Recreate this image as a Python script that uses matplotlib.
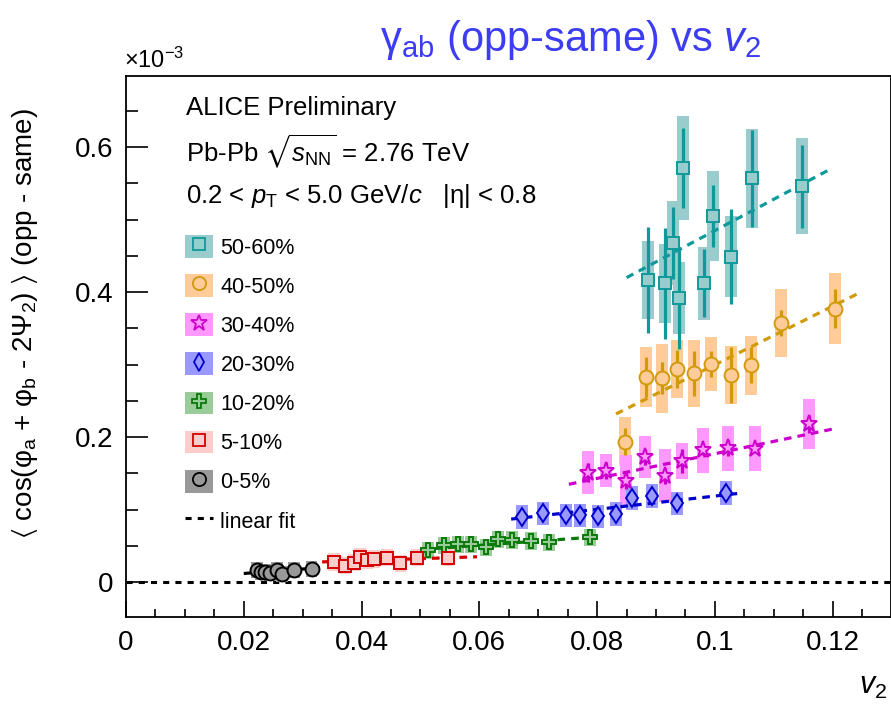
import matplotlib
matplotlib.use("Agg")
import matplotlib.pyplot as plt
from matplotlib.patches import Rectangle
from matplotlib.lines import Line2D
from matplotlib.ticker import MultipleLocator

plt.rcParams['font.family'] = ['Liberation Sans', 'DejaVu Sans']
plt.rcParams['mathtext.fontset'] = 'custom'
plt.rcParams['mathtext.rm'] = 'Liberation Sans'
plt.rcParams['mathtext.it'] = 'Liberation Sans:italic'
plt.rcParams['mathtext.bf'] = 'Liberation Sans:bold'
plt.rcParams['mathtext.fallback'] = 'stixsans'

# centrality classes, values in units of 1e-3
labels = ['50-60%', '40-50%', '30-40%', '20-30%', '10-20%', '5-10%', '0-5%']

v2_5060 = [0.0886, 0.0915, 0.0929, 0.0939, 0.0946, 0.0981, 0.0997, 0.1027, 0.1063, 0.1148]
g_5060 = [0.417, 0.412, 0.468, 0.392, 0.571, 0.412, 0.505, 0.449, 0.557, 0.546]
stat_5060 = [0.073, 0.077, 0.050, 0.070, 0.055, 0.047, 0.043, 0.066, 0.067, 0.057]
sys_5060 = [0.054, 0.054, 0.058, 0.050, 0.072, 0.050, 0.062, 0.056, 0.068, 0.066]

v2_4050 = [0.0847, 0.0883, 0.0910, 0.0935, 0.0964, 0.0993, 0.1027, 0.1061, 0.1112, 0.1204]
g_4050 = [0.194, 0.283, 0.281, 0.294, 0.288, 0.301, 0.286, 0.299, 0.357, 0.377]
stat_4050 = [0.018, 0.028, 0.022, 0.026, 0.031, 0.018, 0.039, 0.025, 0.018, 0.027]
sys_4050 = [0.034, 0.041, 0.048, 0.040, 0.046, 0.037, 0.040, 0.041, 0.047, 0.049]

v2_3040 = [0.0784, 0.0815, 0.0849, 0.0881, 0.0915, 0.0944, 0.0980, 0.1022, 0.1068, 0.1160]
g_3040 = [0.151, 0.154, 0.140, 0.172, 0.147, 0.167, 0.182, 0.185, 0.184, 0.218]
stat_3040 = [0.013, 0.012, 0.012, 0.011, 0.011, 0.017, 0.007, 0.011, 0.005, 0.012]
sys_3040 = [0.030, 0.023, 0.035, 0.029, 0.036, 0.025, 0.031, 0.031, 0.031, 0.034]

v2_2030 = [0.0672, 0.0708, 0.0747, 0.0771, 0.0801, 0.0832, 0.0859, 0.0893, 0.0935, 0.1019]
g_2030 = [0.090, 0.095, 0.092, 0.092, 0.091, 0.094, 0.116, 0.119, 0.109, 0.123]
stat_2030 = [0.006, 0.006, 0.005, 0.005, 0.006, 0.006, 0.006, 0.006, 0.006, 0.006]
sys_2030 = [0.016, 0.016, 0.016, 0.016, 0.016, 0.016, 0.017, 0.017, 0.016, 0.016]

v2_1020 = [0.0513, 0.0540, 0.0564, 0.0586, 0.0611, 0.0632, 0.0655, 0.0688, 0.0718, 0.0788]
g_1020 = [0.044, 0.051, 0.052, 0.052, 0.048, 0.059, 0.058, 0.057, 0.055, 0.062]
stat_1020 = [0.004, 0.004, 0.004, 0.004, 0.004, 0.004, 0.004, 0.004, 0.004, 0.004]
sys_1020 = [0.012, 0.012, 0.012, 0.012, 0.012, 0.012, 0.012, 0.012, 0.012, 0.012]

v2_0510 = [0.0353, 0.0372, 0.0387, 0.0398, 0.0410, 0.0421, 0.0443, 0.0466, 0.0494, 0.0547]
g_0510 = [0.028, 0.023, 0.027, 0.035, 0.030, 0.032, 0.034, 0.026, 0.034, 0.034]
stat_0510 = [0.003, 0.003, 0.003, 0.003, 0.003, 0.003, 0.003, 0.003, 0.003, 0.003]
sys_0510 = [0.012, 0.012, 0.012, 0.012, 0.012, 0.012, 0.012, 0.012, 0.012, 0.012]

v2_0005 = [0.0222, 0.0229, 0.0236, 0.0245, 0.0257, 0.0265, 0.0285, 0.0315]
g_0005 = [0.017, 0.014, 0.014, 0.012, 0.017, 0.011, 0.017, 0.018]
stat_0005 = [0.002, 0.002, 0.002, 0.002, 0.002, 0.002, 0.002, 0.002]
sys_0005 = [0.011, 0.011, 0.011, 0.011, 0.011, 0.011, 0.011, 0.011]

# linear fit end points: (v2 start, v2 end), (value start, value end)
fit_x = [(0.0850, 0.1197), (0.0832, 0.1248), (0.0752, 0.1199), (0.0654, 0.1046),
         (0.0500, 0.0790), (0.0333, 0.0596), (0.0200, 0.0330)]
fit_y = [(0.420, 0.570), (0.232, 0.400), (0.135, 0.211), (0.087, 0.123),
         (0.045, 0.062), (0.028, 0.035), (0.012, 0.020)]

xs = [v2_5060, v2_4050, v2_3040, v2_2030, v2_1020, v2_0510, v2_0005]
ys = [g_5060, g_4050, g_3040, g_2030, g_1020, g_0510, g_0005]
stats = [stat_5060, stat_4050, stat_3040, stat_2030, stat_1020, stat_0510, stat_0005]
syss = [sys_5060, sys_4050, sys_3040, sys_2030, sys_1020, sys_0510, sys_0005]

line_c = ['#10999a', '#d19a0b', '#cc00cc', '#0000cc', '#0a7a0a', '#d40000', '#000000']
box_c = ['#99cccc', '#ffcc99', '#ff99ff', '#9999ff', '#99cc99', '#ffcccc', '#999999']
markers = ['s', 'o', '*', 'd', 'P', 's', 'o']
msizes = [9, 10, 12.5, 9.5, 10.5, 9, 10]

fig = plt.figure(figsize=(8.91, 7.04), dpi=100)
ax = fig.add_axes([126/891, 1-617/704, 765/891, 541/704])

ax.axhline(0, color='k', ls=(0, (2, 2)), lw=2.2, zorder=1)

bw = 0.002
handles = []
for i in range(len(labels)):
    for x, y, s in zip(xs[i], ys[i], syss[i]):
        ax.add_patch(Rectangle((x-bw/2, y-s), bw, 2*s, facecolor=box_c[i],
                               edgecolor='none', zorder=2))
    ax.plot(fit_x[i], fit_y[i], color=line_c[i], ls=(0, (2.4, 1.9)), lw=2.3, zorder=3)
    ax.errorbar(xs[i], ys[i], yerr=stats[i], fmt='none', ecolor=line_c[i],
                elinewidth=2.3, capsize=0, zorder=4)
    ax.plot(xs[i], ys[i], ls='none', marker=markers[i], ms=msizes[i],
            mfc=box_c[i], mec=line_c[i], mew=1.4, zorder=5)
    handles.append((Rectangle((0, 0), 1, 1, facecolor=box_c[i], edgecolor='none'),
                    Line2D([], [], ls='none', marker=markers[i], ms=msizes[i]*0.95,
                           mfc=box_c[i], mec=line_c[i], mew=1.3)))

handles.append(Line2D([], [], color='k', ls=(0, (2, 2)), lw=2.2))
leg = ax.legend(handles, labels + ['linear fit'], loc='upper left',
                bbox_to_anchor=(0.077, 0.706), frameon=False, fontsize=15.5,
                handlelength=1.3, handleheight=1.25, handletextpad=0.35,
                labelspacing=0.72, borderpad=0, borderaxespad=0)

ax.set_xlim(0, 0.1299)
ax.set_ylim(-0.048, 0.698)
ax.xaxis.set_minor_locator(MultipleLocator(0.005))
ax.yaxis.set_minor_locator(MultipleLocator(0.05))
ax.set_xticks([0, 0.02, 0.04, 0.06, 0.08, 0.1, 0.12],
              ['0', '0.02', '0.04', '0.06', '0.08', '0.1', '0.12'])
ax.set_yticks([0, 0.2, 0.4, 0.6], ['0', '0.2', '0.4', '0.6'])
ax.tick_params(axis='x', which='major', direction='in', length=11.5, width=1.2,
               labelsize=20, pad=9)
ax.tick_params(axis='x', which='minor', direction='in', length=5.8, width=1.2)
ax.tick_params(axis='y', which='major', direction='in', length=16, width=1.2,
               labelsize=20, pad=9)
ax.tick_params(axis='y', which='minor', direction='in', length=8.5, width=1.2)
for sp in ax.spines.values():
    sp.set_linewidth(1.3)

tx = 0.079
ax.text(tx, 0.941, 'ALICE Preliminary', transform=ax.transAxes, fontsize=18.5, va='center')
ax.text(tx, 0.860, r'Pb-Pb $\sqrt{s_{\rm NN}}$ = 2.76 TeV', transform=ax.transAxes,
        fontsize=18.5, va='center')
ax.text(tx, 0.778, r'0.2 < $p_{\rm T}$ < 5.0 GeV/$c$   |η| < 0.8', transform=ax.transAxes,
        fontsize=18.5, va='center')

fig.text(124/891, 1-60/704, r'×10$^{-3}$', fontsize=17, va='center', ha='left')
fig.text(571/891, 1-40/704, r'γ$_{\rm ab}$ (opp-same) vs $v_{2}$', fontsize=30,
         color='#3c3cf2', ha='center', va='center')

ax.set_ylabel(r'$\langle$ cos(φ$_{\rm a}$ + φ$_{\rm b}$ - 2Ψ$_{2}$) $\rangle$ (opp - same)',
              fontsize=20)
ax.yaxis.set_label_coords(-0.112, (617-323)/541)
ax.set_xlabel(r'$v_{2}$', fontsize=22, loc='right')
ax.xaxis.set_label_coords(0.995, -0.10)

fig.savefig('out.png', dpi=100)
